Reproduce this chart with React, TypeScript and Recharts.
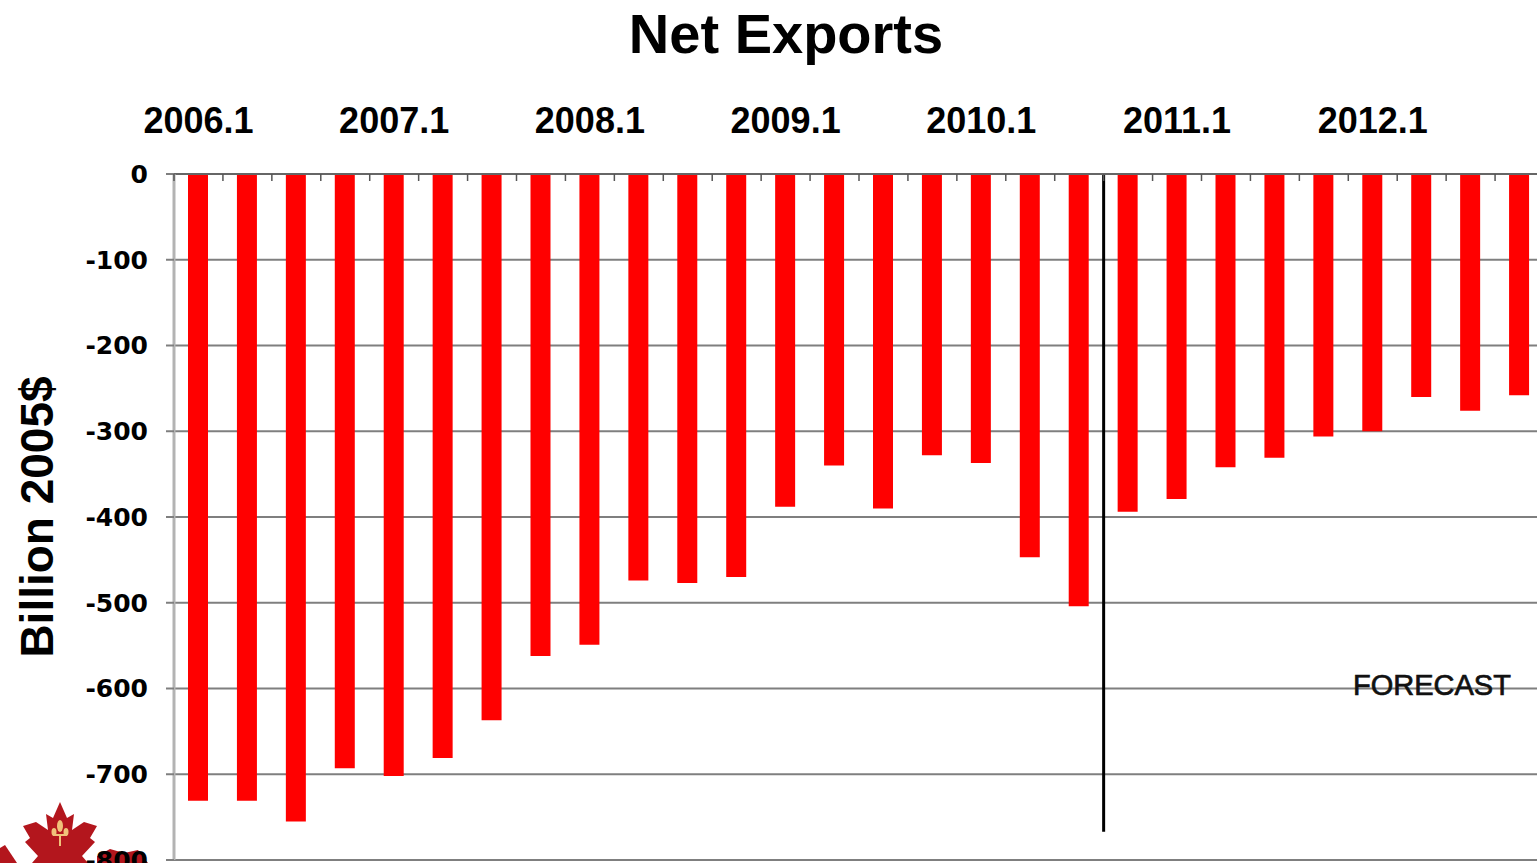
import { BarChart, Bar, XAxis, YAxis, CartesianGrid, ReferenceLine } from 'recharts';

const quarters = [
  '2006.1', '2006.2', '2006.3', '2006.4',
  '2007.1', '2007.2', '2007.3', '2007.4',
  '2008.1', '2008.2', '2008.3', '2008.4',
  '2009.1', '2009.2', '2009.3', '2009.4',
  '2010.1', '2010.2', '2010.3', '2010.4',
  '2011.1', '2011.2', '2011.3', '2011.4',
  '2012.1', '2012.2', '2012.3', '2012.4',
];

const netExports = [
  -731, -731, -755, -693,
  -702, -681, -637, -562,
  -549, -474, -477, -470,
  -388, -340, -390, -328,
  -337, -447, -504, -394,
  -379, -342, -331, -306,
  -300, -260, -276, -258,
];

const yTicks = [0, -100, -200, -300, -400, -500, -600, -700, -800];

// forecast divider sits at the start of this quarter
const forecastStart = '2010.4';
const forecastLineBottom = -767;

const data = quarters.map((q, i) => ({ q, value: netExports[i] }));

const ARIAL = '"Liberation Sans", Arial, sans-serif';

const QuarterTick = (props: any) => {
  const { x, y, payload } = props;
  const half = payload?.offset ?? 24.5;
  const idx = quarters.indexOf(payload.value);
  return (
    <g>
      <line x1={x - half} x2={x - half} y1={y} y2={y + 7} stroke="#555" strokeWidth={1.5} />
      {idx % 4 === 0 && (
        <text x={x} y={y - 41} textAnchor="middle" fontFamily={ARIAL} fontWeight="bold" fontSize={36} fill="#000">
          {payload.value}
        </text>
      )}
    </g>
  );
};

const App = () => {
  return (
    <div style={{ position: 'absolute', left: 0, top: 0, width: 1537, height: 863, overflow: 'hidden', background: '#fff' }}>
      {/* logo in the corner */}
      <svg width={160} height={70} style={{ position: 'absolute', left: 0, top: 793 }} viewBox="0 793 160 70">
        <polygon
          fill="#b3161d"
          points="60,802 67,818 74,814 72,830 84,822 97,826 90,838 95,842 82,856 88,863 32,863 38,856 25,842 30,838 23,826 36,822 48,830 46,814 53,818"
        />
        <polygon fill="#b3161d" points="0,848 5,845 17,863 0,863" />
        <polygon fill="#b3161d" points="97,856 110,849 124,853 138,850 148,863 97,863" />
        <ellipse cx={60} cy={826} rx={3} ry={6} fill="#f0c27a" />
        <ellipse cx={54} cy={832} rx={2.5} ry={4} fill="#f0c27a" />
        <ellipse cx={66} cy={832} rx={2.5} ry={4} fill="#f0c27a" />
        <rect x={53} y={834} width={14} height={2} fill="#f0c27a" />
        <rect x={59} y={836} width={2} height={10} fill="#f0c27a" />
      </svg>

      <div style={{ position: 'absolute', left: 0, top: 0 }}>
        <BarChart width={1544} height={863} data={data} margin={{ top: 0, right: 0, bottom: 3, left: 0 }}>
          <CartesianGrid vertical={false} stroke="#7f7f7f" strokeWidth={2} />
          <XAxis
            dataKey="q"
            orientation="top"
            height={174}
            interval={0}
            tickLine={false}
            tickSize={0}
            tickMargin={0}
            axisLine={{ stroke: '#666', strokeWidth: 2 }}
            tick={<QuarterTick />}
          />
          <YAxis
            width={174}
            domain={[-800, 0]}
            ticks={yTicks}
            interval={0}
            tickSize={8}
            tickMargin={18}
            tickLine={{ stroke: '#7f7f7f', strokeWidth: 2 }}
            axisLine={{ stroke: '#b3b3b3', strokeWidth: 3 }}
            tick={{ fill: '#000', fontSize: 25, fontWeight: 'bold', fontFamily: '"DejaVu Sans", sans-serif' }}
          />
          <Bar dataKey="value" fill="#ff0000" barSize={20} isAnimationActive={false} />
          <ReferenceLine
            segment={[{ x: forecastStart, y: 0 }, { x: forecastStart, y: forecastLineBottom }]}
            position="start"
            stroke="#000"
            strokeWidth={3}
          />
        </BarChart>
      </div>

      <svg width={1537} height={863} style={{ position: 'absolute', left: 0, top: 0, pointerEvents: 'none' }}>
        <text x={786} y={53} textAnchor="middle" fontFamily={ARIAL} fontWeight="bold" fontSize={56} fill="#000">
          Net Exports
        </text>
        <text transform="translate(53, 517) rotate(-90)" textAnchor="middle" fontFamily={ARIAL} fontWeight="bold" fontSize={46} fill="#000">
          Billion 2005$
        </text>
        <text x={1353} y={695} fontFamily={ARIAL} fontSize={29} fill="#111" stroke="#111" strokeWidth={0.7}>
          FORECAST
        </text>
      </svg>
    </div>
  );
};

export default App;
